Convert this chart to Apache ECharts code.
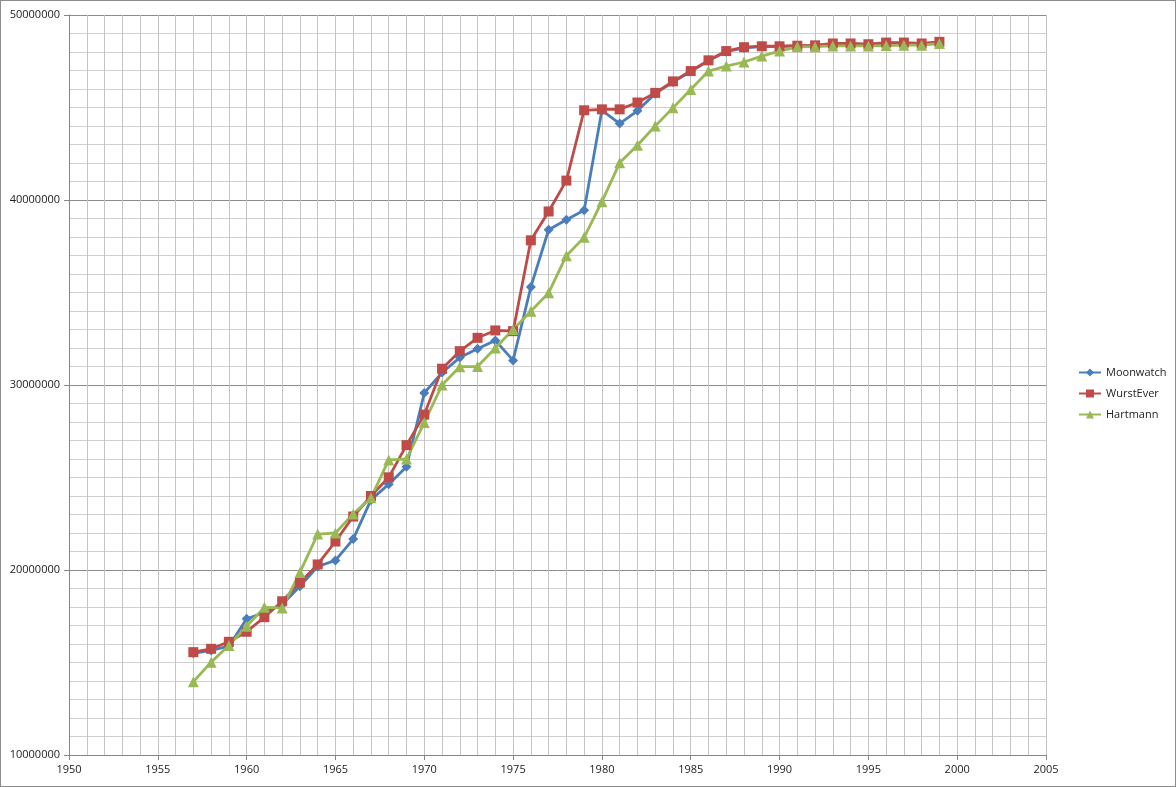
<!DOCTYPE html>
<html>
<head>
<meta charset="utf-8">
<script src="https://cdn.jsdelivr.net/npm/echarts@6/dist/echarts.min.js"></script>
<style>
html,body{margin:0;padding:0;background:#fff;}
#c{width:1176px;height:787px;box-sizing:border-box;border:1px solid #8c8c8c;}
</style>
</head>
<body>
<div id="c"></div>
<script>
const years = [1957,1958,1959,1960,1961,1962,1963,1964,1965,1966,1967,1968,1969,1970,1971,1972,1973,1974,1975,1976,1977,1978,1979,1980,1981,1982,1983,1984,1985,1986,1987,1988,1989,1990,1991,1992,1993,1994,1995,1996,1997,1998,1999];
const moonwatch = [15500000,15650000,15880000,17360000,17700000,18130000,19120000,20190000,20520000,21670000,23790000,24640000,25580000,29570000,30670000,31480000,31960000,32410000,31330000,35300000,38390000,38930000,39440000,44850000,44130000,44820000,45750000,46380000,46950000,47520000,48020000,48220000,48290000,48300000,48330000,48340000,48420000,48420000,48410000,48480000,48480000,48440000,48520000];
const wurstever = [15560000,15740000,16120000,16660000,17450000,18310000,19330000,20300000,21540000,22890000,24000000,25010000,26750000,28400000,30880000,31830000,32550000,32950000,32910000,37820000,39380000,41050000,44850000,44900000,44900000,45270000,45790000,46410000,46970000,47550000,48050000,48260000,48310000,48310000,48340000,48360000,48460000,48460000,48420000,48510000,48510000,48460000,48550000];
const hartmann = [13960000,15020000,15920000,16960000,17980000,17950000,19870000,21940000,22000000,23030000,23900000,25950000,26000000,27970000,30000000,30990000,31000000,32000000,33000000,33990000,34980000,36990000,37980000,39910000,42010000,42960000,44000000,44980000,45970000,46970000,47240000,47460000,47780000,48050000,48280000,48290000,48330000,48330000,48330000,48350000,48370000,48370000,48460000];
const seriesNames = ['Moonwatch','WurstEver','Hartmann'];

const chart = echarts.init(document.getElementById('c'), null, {renderer:'canvas'});
const pairs = arr => years.map((y,i)=>[y,arr[i]]);
const font = '"Open Sans", "Liberation Sans", sans-serif';
function mk(name, data, color, symbol, size){
  return {
    name, type:'line', data:pairs(data), symbol, symbolSize:size,
    showSymbol:true, animation:false,
    lineStyle:{color, width:2.8},
    itemStyle:{color, borderWidth:0}
  };
}
chart.setOption({
  animation:false,
  backgroundColor:'#fff',
  grid:{left:68, right:129, top:14, bottom:31, containLabel:false},
  legend:{
    orient:'vertical', left:1077, top:366, padding:0, itemGap:10, itemWidth:22, itemHeight:10,
    textStyle:{fontFamily:font, fontSize:11, color:'#222'},
    data:seriesNames
  },
  xAxis:{
    type:'value', min:1950, max:2005, interval:5,
    axisLine:{show:true, lineStyle:{color:'#868686'}},
    axisTick:{show:true, length:5, lineStyle:{color:'#868686'}},
    axisLabel:{fontFamily:font, fontSize:11, color:'#222', margin:9, formatter:v=>String(v)},
    splitLine:{show:true, lineStyle:{color:'#c4c4c4', width:1}},
    minorTick:{show:false, splitNumber:5},
    minorSplitLine:{show:true, lineStyle:{color:'#c4c4c4', width:1}}
  },
  yAxis:{
    type:'value', min:10000000, max:50000000, interval:10000000,
    axisLine:{show:true, lineStyle:{color:'#868686'}},
    axisTick:{show:true, length:5, lineStyle:{color:'#868686'}},
    axisLabel:{fontFamily:font, fontSize:11, color:'#222', margin:9, formatter:v=>String(v)},
    splitLine:{show:true, lineStyle:{color:'#8c8c8c', width:1}},
    minorTick:{show:false, splitNumber:10},
    minorSplitLine:{show:true, lineStyle:{color:'#cfcfcf', width:1}}
  },
  series:[
    mk('Moonwatch', moonwatch, '#4a7ebb', 'diamond', 10),
    mk('WurstEver', wurstever, '#be4b48', 'rect', 10),
    mk('Hartmann', hartmann, '#98b954', 'triangle', 11)
  ]
});
</script>
</body>
</html>
